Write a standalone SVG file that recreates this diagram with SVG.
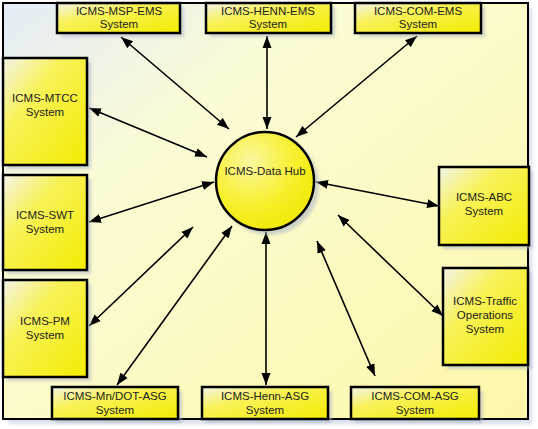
<svg xmlns="http://www.w3.org/2000/svg" width="538" height="429" viewBox="0 0 538 429">
<defs>
<linearGradient id="bg" x1="0" y1="0" x2="1" y2="1">
<stop offset="0" stop-color="#e4ecf8"/>
<stop offset="0.3" stop-color="#fbfbd6"/>
<stop offset="1" stop-color="#fdf8aa"/>
</linearGradient>
<linearGradient id="bx" x1="0" y1="0" x2="1" y2="1">
<stop offset="0" stop-color="#f4f4ea"/>
<stop offset="0.35" stop-color="#f8f25a"/>
<stop offset="1" stop-color="#f4ec00"/>
</linearGradient>
<radialGradient id="hub" cx="0.35" cy="0.3" r="0.8">
<stop offset="0" stop-color="#fbf7a0"/>
<stop offset="0.55" stop-color="#f8f030"/>
<stop offset="1" stop-color="#f2e800"/>
</radialGradient>
<filter id="sh" x="-20%" y="-20%" width="140%" height="140%">
<feGaussianBlur stdDeviation="1.5"/>
</filter>
<marker id="ah" viewBox="0 0 12 10" refX="12" refY="5" markerWidth="12" markerHeight="10" markerUnits="userSpaceOnUse" orient="auto-start-reverse">
<path d="M0,0.5 L12,5 L0,9.5 Z" fill="#000"/>
</marker>
</defs>
<style>
.box{fill:url(#bx);stroke:#000;stroke-width:2.5}
.shd{fill:#aab4c8;opacity:0.55;filter:url(#sh)}
.t{font-family:"Liberation Sans",Arial,sans-serif;font-size:11.5px;fill:#222;text-anchor:middle}
.c{stroke:#000;stroke-width:1.6;fill:none;marker-start:url(#ah);marker-end:url(#ah)}
</style>
<rect x="0" y="0" width="538" height="429" fill="#ffffff"/>
<rect x="8" y="8" width="524" height="416" fill="#b8c4d8" opacity="0.5" filter="url(#sh)"/>
<rect x="3" y="3" width="525" height="416" fill="url(#bg)" stroke="#000" stroke-width="2"/>

<g id="connectors">
<line class="c" x1="121" y1="37" x2="229" y2="129"/>
<line class="c" x1="267" y1="36" x2="267" y2="129"/>
<line class="c" x1="417" y1="36" x2="296" y2="137"/>
<line class="c" x1="89" y1="108" x2="207" y2="157"/>
<line class="c" x1="89" y1="222" x2="214" y2="182"/>
<line class="c" x1="89" y1="326" x2="193" y2="227"/>
<line class="c" x1="117" y1="385" x2="232" y2="226"/>
<line class="c" x1="266" y1="385" x2="266" y2="232"/>
<line class="c" x1="375" y1="376" x2="317" y2="241"/>
<line class="c" x1="443" y1="316" x2="338" y2="215"/>
<line class="c" x1="316" y1="182" x2="439" y2="206"/>
</g>

<g id="hub-node">
<circle cx="269" cy="185" r="50" class="shd"/>
<circle cx="265" cy="181" r="49" fill="url(#hub)" stroke="#000" stroke-width="2.5"/>
<text class="t" x="265" y="175">ICMS-Data Hub</text>
</g>

<g id="msp-ems">
<rect class="shd" x="61" y="7" width="123" height="30"/>
<rect class="box" x="57" y="3" width="123" height="30"/>
<text class="t" x="119" y="15">ICMS-MSP-EMS</text>
<text class="t" x="119" y="28">System</text>
</g>
<g id="henn-ems">
<rect class="shd" x="210" y="7" width="125" height="30"/>
<rect class="box" x="206" y="3" width="125" height="30"/>
<text class="t" x="268" y="15">ICMS-HENN-EMS</text>
<text class="t" x="268" y="28">System</text>
</g>
<g id="com-ems">
<rect class="shd" x="359" y="7" width="126" height="30"/>
<rect class="box" x="355" y="3" width="126" height="30"/>
<text class="t" x="418" y="15">ICMS-COM-EMS</text>
<text class="t" x="418" y="28">System</text>
</g>

<g id="mtcc">
<rect class="shd" x="7" y="62" width="84" height="107"/>
<rect class="box" x="3" y="58" width="84" height="107"/>
<text class="t" x="45" y="102">ICMS-MTCC</text>
<text class="t" x="45" y="116">System</text>
</g>
<g id="swt">
<rect class="shd" x="7" y="179" width="84" height="95"/>
<rect class="box" x="3" y="175" width="84" height="95"/>
<text class="t" x="45" y="219">ICMS-SWT</text>
<text class="t" x="45" y="233">System</text>
</g>
<g id="pm">
<rect class="shd" x="7" y="284" width="84" height="97"/>
<rect class="box" x="3" y="280" width="84" height="97"/>
<text class="t" x="45" y="325">ICMS-PM</text>
<text class="t" x="45" y="339">System</text>
</g>

<g id="mndot-asg">
<rect class="shd" x="56" y="391" width="126" height="32"/>
<rect class="box" x="52" y="387" width="126" height="32"/>
<text class="t" x="115" y="400">ICMS-Mn/DOT-ASG</text>
<text class="t" x="115" y="414">System</text>
</g>
<g id="henn-asg">
<rect class="shd" x="206" y="391" width="126" height="32"/>
<rect class="box" x="202" y="387" width="126" height="32"/>
<text class="t" x="265" y="400">ICMS-Henn-ASG</text>
<text class="t" x="265" y="414">System</text>
</g>
<g id="com-asg">
<rect class="shd" x="355" y="391" width="128" height="32"/>
<rect class="box" x="351" y="387" width="128" height="32"/>
<text class="t" x="415" y="400">ICMS-COM-ASG</text>
<text class="t" x="415" y="414">System</text>
</g>

<g id="abc">
<rect class="shd" x="443" y="171" width="90" height="78"/>
<rect class="box" x="439" y="167" width="90" height="78"/>
<text class="t" x="484" y="201">ICMS-ABC</text>
<text class="t" x="484" y="215">System</text>
</g>
<g id="traffic">
<rect class="shd" x="447" y="272" width="85" height="97"/>
<rect class="box" x="443" y="268" width="85" height="97"/>
<text class="t" x="485" y="305">ICMS-Traffic</text>
<text class="t" x="485" y="319">Operations</text>
<text class="t" x="485" y="333">System</text>
</g>
</svg>
